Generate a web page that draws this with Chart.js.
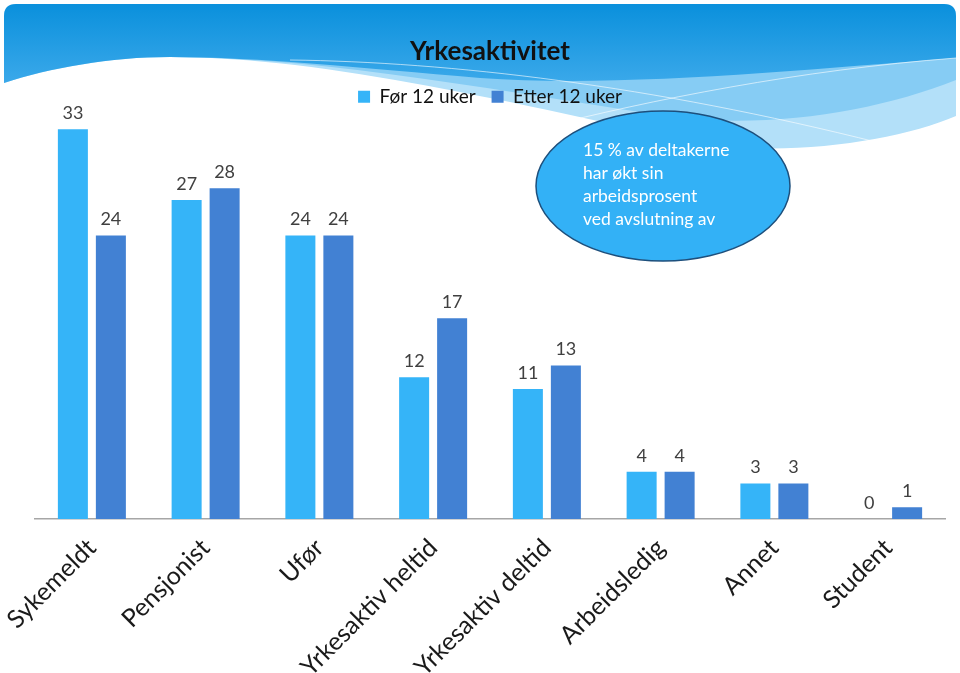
<!DOCTYPE html>
<html>
<head>
<meta charset="utf-8">
<script src="https://cdn.jsdelivr.net/npm/chart.js@4"></script>
<style>
  html, body { margin: 0; padding: 0; background: #fff; }
  #wrap { width: 960px; height: 673px; }
</style>
</head>
<body>
<div id="wrap"><canvas id="chart" width="960" height="673"></canvas></div>
<script>
// ─── Data ────────────────────────────────────────────────
const categories = ["Sykemeldt", "Pensjonist", "Ufør", "Yrkesaktiv heltid", "Yrkesaktiv deltid", "Arbeidsledig", "Annet", "Student"];
const seriesNames = ["Før 12 uker", "Etter 12 uker"];
const before12 = [33, 27, 24, 12, 11, 4, 3, 0];
const after12 = [24, 28, 24, 17, 13, 4, 3, 1];
const noteLines = ["15 % av deltakerne", "har økt sin", "arbeidsprosent", "ved avslutning av"];

const FONT = "Lato, 'Open Sans', sans-serif";
const LIGHT = "#35b4f8";
const DARK = "#4281d3";

// ─── Slide background (wave header) ──────────────────────
const slideBackground = {
  id: "slideBackground",
  beforeDraw(chart) {
    const ctx = chart.ctx;
    ctx.save();
    ctx.fillStyle = "#fff";
    ctx.fillRect(0, 0, chart.width, chart.height);

    // whole coloured area, light tone
    ctx.beginPath();
    ctx.moveTo(4, 16);
    ctx.quadraticCurveTo(4, 4, 16, 4);
    ctx.lineTo(944, 4);
    ctx.quadraticCurveTo(956, 4, 956, 16);
    ctx.lineTo(956, 116);
    ctx.bezierCurveTo(900, 140, 790, 158, 700, 143);
    ctx.bezierCurveTo(520, 105, 330, 57, 170, 57);
    ctx.bezierCurveTo(110, 57, 50, 68, 4, 83);
    ctx.closePath();
    ctx.fillStyle = "#b3e0f9";
    ctx.fill();

    // middle band
    ctx.beginPath();
    ctx.moveTo(956, 16);
    ctx.lineTo(956, 80);
    ctx.bezierCurveTo(880, 110, 780, 128, 680, 118);
    ctx.bezierCurveTo(520, 95, 330, 57, 170, 57);
    ctx.lineTo(170, 4);
    ctx.closePath();
    ctx.fillStyle = "#86ccf4";
    ctx.fill();

    // dark gradient top
    const g = ctx.createLinearGradient(0, 4, 0, 100);
    g.addColorStop(0, "#0a90dc");
    g.addColorStop(1, "#45aeed");
    ctx.beginPath();
    ctx.moveTo(4, 16);
    ctx.quadraticCurveTo(4, 4, 16, 4);
    ctx.lineTo(944, 4);
    ctx.quadraticCurveTo(956, 4, 956, 16);
    ctx.lineTo(956, 58);
    ctx.bezierCurveTo(800, 70, 620, 88, 480, 78);
    ctx.bezierCurveTo(360, 68, 260, 57, 170, 57);
    ctx.bezierCurveTo(110, 57, 50, 68, 4, 83);
    ctx.closePath();
    ctx.fillStyle = g;
    ctx.fill();

    // thin white lines
    ctx.strokeStyle = "rgba(255,255,255,0.6)";
    ctx.lineWidth = 1;
    ctx.beginPath();
    ctx.moveTo(290, 60);
    ctx.bezierCurveTo(450, 62, 650, 85, 880, 143);
    ctx.stroke();
    ctx.beginPath();
    ctx.moveTo(540, 128);
    ctx.bezierCurveTo(650, 100, 800, 70, 956, 58);
    ctx.stroke();
    ctx.restore();
  }
};

// ─── Value labels above bars ─────────────────────────────
const valueLabels = {
  id: "valueLabels",
  afterDatasetsDraw(chart) {
    const ctx = chart.ctx;
    ctx.save();
    ctx.font = "18px " + FONT;
    ctx.fillStyle = "#404040";
    ctx.textAlign = "center";
    ctx.textBaseline = "middle";
    chart.data.datasets.forEach((ds, i) => {
      chart.getDatasetMeta(i).data.forEach((bar, j) => {
        ctx.fillText(String(ds.data[j]), bar.x, bar.y - 16);
      });
    });
    ctx.restore();
  }
};

// ─── Callout ellipse ─────────────────────────────────────
const callout = {
  id: "callout",
  afterDraw(chart) {
    const ctx = chart.ctx;
    ctx.save();
    ctx.beginPath();
    ctx.ellipse(663, 186, 127, 75, 0, 0, Math.PI * 2);
    ctx.fillStyle = "#33b1f6";
    ctx.fill();
    ctx.lineWidth = 1.5;
    ctx.strokeStyle = "#1d4f7c";
    ctx.stroke();
    ctx.font = "17.5px " + FONT;
    ctx.fillStyle = "#fff";
    ctx.textAlign = "left";
    ctx.textBaseline = "middle";
    noteLines.forEach((t, i) => ctx.fillText(t, 583, 150 + i * 23));
    ctx.restore();
  }
};

new Chart(document.getElementById("chart"), {
  type: "bar",
  data: {
    labels: categories,
    datasets: [
      { label: seriesNames[0], data: before12, backgroundColor: LIGHT, categoryPercentage: 0.668, barPercentage: 0.79 },
      { label: seriesNames[1], data: after12, backgroundColor: DARK, categoryPercentage: 0.668, barPercentage: 0.79 },
    ]
  },
  options: {
    responsive: false,
    animation: false,
    layout: { padding: { left: 35, right: 15, top: 0, bottom: 0 } },
    plugins: {
      title: {
        display: true,
        text: "Yrkesaktivitet",
        color: "#111",
        font: { family: FONT, size: 26, weight: "bold" },
        padding: { top: 36, bottom: 4 }
      },
      legend: {
        display: true,
        labels: {
          color: "#111",
          font: { family: FONT, size: 19 },
          boxWidth: 12,
          boxHeight: 12,
          padding: 16
        }
      },
      tooltip: { enabled: false }
    },
    scales: {
      x: {
        grid: { display: false, drawTicks: false },
        border: { display: true, color: "#a6a6a6", width: 1.5 },
        ticks: {
          minRotation: 45,
          maxRotation: 45,
          autoSkip: false,
          color: "#1a1a1a",
          font: { family: FONT, size: 25 },
          padding: 14
        },
        afterFit(scale) {
          scale.height = 154;
          scale.paddingLeft = 0;
          scale.paddingRight = 0;
        }
      },
      y: {
        display: false,
        min: 0,
        max: 34.1
      }
    }
  },
  plugins: [slideBackground, valueLabels, callout]
});
</script>
</body>
</html>
